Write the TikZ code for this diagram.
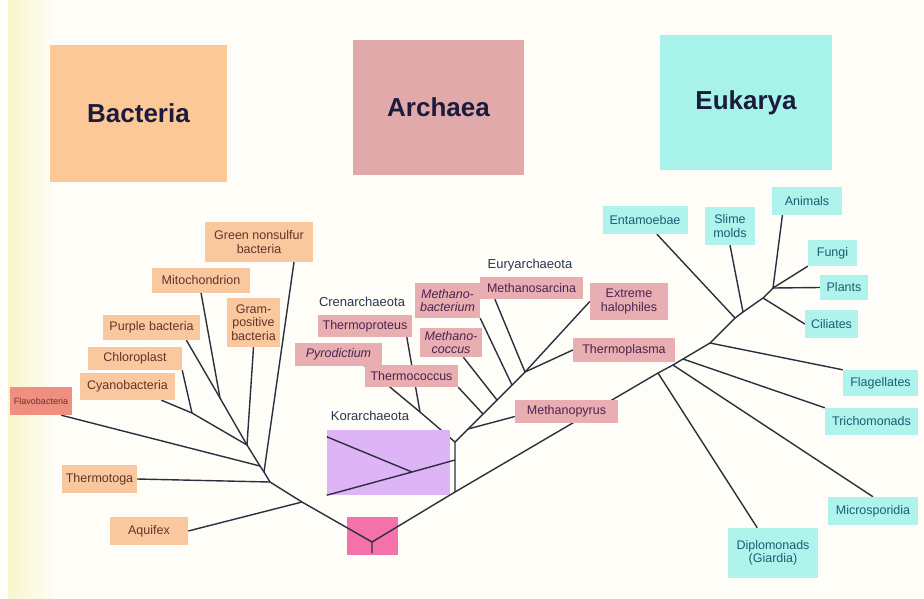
\documentclass[tikz,border=0pt]{standalone}
\usepackage{fontspec}
\setmainfont{Liberation Sans}
\usetikzlibrary{backgrounds}
\definecolor{pagebg}{HTML}{FEFDF8}
\definecolor{bandcol}{HTML}{F8F6CC}
\definecolor{bachead}{HTML}{FCC897}
\definecolor{archead}{HTML}{E1A9AA}
\definecolor{eukhead}{HTML}{A7F3EA}
\definecolor{bacfill}{HTML}{FAC89E}
\definecolor{arcfill}{HTML}{E8AEB1}
\definecolor{eukfill}{HTML}{AEF3EC}
\definecolor{korfill}{HTML}{DDB4F5}
\definecolor{rootfill}{HTML}{F471A9}
\definecolor{flavofill}{HTML}{EE8F80}
\definecolor{bactext}{HTML}{6A3028}
\definecolor{arctext}{HTML}{4C2450}
\definecolor{euktext}{HTML}{1E5C74}
\definecolor{headtext}{HTML}{1B1B3D}
\definecolor{cladetext}{HTML}{2C3652}
\definecolor{linecol}{HTML}{2B2F40}
\tikzset{
  leaf/.style={rectangle, inner sep=1pt, align=center,
    font=\fontsize{12.5}{13.5}\selectfont},
  sz/.style 2 args={minimum width=#1, minimum height=#2},
  bac/.style={leaf, fill=bacfill, text=bactext},
  arc/.style={leaf, fill=arcfill, text=arctext},
  euk/.style={leaf, fill=eukfill, text=euktext},
  domhead/.style={rectangle, text=headtext,
    font=\fontsize{26}{30}\selectfont\bfseries},
  clade/.style={inner sep=0pt, text=cladetext, font=\fontsize{13}{15}\selectfont},
  branch/.style={draw=linecol, line width=1.4pt}
}
\begin{document}
\begin{tikzpicture}[x=1pt,y=-1pt]
  \useasboundingbox (0,0) rectangle (924,598);
  \begin{scope}[on background layer]
    \fill[pagebg] (0,0) rectangle (924,598);
    \shade[left color=bandcol, right color=pagebg] (8,0) rectangle (55,598);
  \end{scope}

  \node[domhead, fill=bachead, sz={177}{137}] (bacteria) at (138.5,113.5) {Bacteria};
  \node[domhead, fill=archead, sz={171}{135}] (archaea) at (438.5,107.5) {Archaea};
  \node[domhead, fill=eukhead, sz={172}{135}] (eukarya) at (746,102.5) {Eukarya};

  \node[bac, sz={108}{40}] (gns) at (259,242) {Green nonsulfur\\bacteria};
  \node[bac, sz={98}{25}] (mito) at (201,280) {Mitochondrion};
  \node[bac, sz={53}{49}] (gram) at (253.5,322.5) {Gram-\\positive\\bacteria};
  \node[bac, sz={97}{25}] (purple) at (151.5,327.5) {Purple bacteria};
  \node[bac, sz={94}{23}] (chloro) at (135,358.5) {Chloroplast};
  \node[bac, sz={95}{27}] (cyano) at (127.5,386.5) {Cyanobacteria};
  \node[bac, fill=flavofill, sz={62}{28}, inner sep=0pt,
    font=\fontsize{9}{10}\selectfont] (flavo) at (41,401) {Flavobacteria};
  \node[bac, sz={75}{28}] (thermotoga) at (99.5,479) {Thermotoga};
  \node[bac, sz={78}{28}] (aquifex) at (149,531) {Aquifex};

  \node[clade] (cren) at (362,302) {Crenarchaeota};
  \node[clade] (eury) at (530,265) {Euryarchaeota};
  \node[clade] (korlab) at (370,416) {Korarchaeota};
  \node[arc, sz={94}{22}] (tprot) at (365,326) {Thermoproteus};
  \node[arc, sz={87}{23}] (pyro) at (338.5,354.5) {\itshape Pyrodictium};
  \node[arc, sz={93}{22}] (tcoc) at (411.5,376) {Thermococcus};
  \node[arc, sz={65}{35}] (mbac) at (447.5,300.5) {\itshape Methano-\\\itshape bacterium};
  \node[arc, sz={62}{29}] (mcoc) at (451,342.5) {\itshape Methano-\\\itshape coccus};
  \node[arc, sz={103}{22}] (msar) at (531.5,288) {Methanosarcina};
  \node[arc, sz={78}{37}] (halo) at (629,301.5) {Extreme\\halophiles};
  \node[arc, sz={102}{24}] (tplas) at (624,350) {Thermoplasma};
  \node[arc, sz={103}{23}] (mpyr) at (566.5,411.5) {Methanopyrus};
  \node[rectangle, fill=korfill, sz={123}{65}] (kor) at (388.5,462.5) {};
  \node[rectangle, fill=rootfill, sz={51}{38}] (root) at (372.5,536) {};

  \node[euk, sz={85}{28}] (ent) at (645,220) {Entamoebae};
  \node[euk, sz={50}{38}] (slime) at (730,226) {Slime\\molds};
  \node[euk, sz={70}{28}] (anim) at (807,201) {Animals};
  \node[euk, sz={49}{26}] (fungi) at (832.5,253) {Fungi};
  \node[euk, sz={48}{25}] (plants) at (844,287.5) {Plants};
  \node[euk, sz={53}{28}] (cil) at (831.5,324) {Ciliates};
  \node[euk, sz={75}{26}] (flag) at (880.5,383) {Flagellates};
  \node[euk, sz={93}{27}] (tricho) at (871.5,421.5) {Trichomonads};
  \node[euk, sz={90}{28}] (micro) at (873,511) {Microsporidia};
  \node[euk, sz={90}{50}] (diplo) at (773,553) {Diplomonads\\(Giardia)};

  \coordinate (R) at (372,542);
  \coordinate (stem) at (372,553);
  \coordinate (b0) at (302,502);
  \coordinate (b1) at (270,482);
  \coordinate (b2) at (264,472);
  \coordinate (b3) at (260,466);
  \coordinate (b4) at (247,445);
  \coordinate (b5) at (192,413);
  \coordinate (b6) at (220,398);
  \coordinate (a0) at (455,492);
  \coordinate (a1) at (455,460);
  \coordinate (a2) at (455,442);
  \coordinate (k1) at (412,472);
  \coordinate (c1) at (420,412);
  \coordinate (y0) at (468,429);
  \coordinate (y1) at (483,414);
  \coordinate (y2) at (497,400);
  \coordinate (y3) at (512,385);
  \coordinate (y4) at (525,372);
  \coordinate (e1) at (658,373);
  \coordinate (e2) at (673,365);
  \coordinate (e3) at (683,359);
  \coordinate (e4) at (710,343);
  \coordinate (e5) at (735,318);
  \coordinate (e6) at (743,312);
  \coordinate (e7) at (763,298);
  \coordinate (e8) at (773,288);

  \begin{scope}[on background layer]
  \begin{scope}[branch]
    \draw (b0) -- (b1) -- (b2) -- (b3) -- (b4) -- (b6) -- (purple.-20);
    \draw (b6) -- (mito.south);
    \draw (b4) -- (b5) -- (cyano.-22);
    \draw (b5) -- (chloro.south east);
    \draw (b4) -- (gram.south);
    \draw (b3) -- ([xshift=-11pt]flavo.south east);
    \draw (b2) -- (gns.-30);
    \draw (b1) -- (thermotoga.east);
    \draw (b0) -- (aquifex.east);
    \draw (a0) -- (a1) -- (a2) -- (c1) -- (pyro.-24);
    \draw (c1) -- (tprot.-15);
    \draw (a2) -- (y0) -- (y1) -- (y2) -- (y3) -- (y4) -- (halo.west);
    \draw (y0) -- ([yshift=-5pt]mpyr.west);
    \draw (y1) -- (tcoc.south east);
    \draw (y2) -- (mcoc.-50);
    \draw (y3) -- (mbac.south east);
    \draw (y4) -- (msar.-163);
    \draw (y4) -- (tplas.west);
    \draw (a0) -- (e1) -- (e2) -- (e3) -- (e4) -- (e5) -- (e6) -- (e7) -- (e8) -- (anim.-150);
    \draw (e1) -- (diplo.122);
    \draw (e2) -- (micro.north);
    \draw (e3) -- (tricho.north west);
    \draw (e4) -- (flag.north west);
    \draw (e5) -- (ent.-50);
    \draw (e6) -- (slime.south);
    \draw (e7) -- (cil.west);
    \draw (e8) -- (fungi.south west);
    \draw (e8) -- (plants.west);
  \end{scope}
  \end{scope}
  \begin{scope}[branch]
    \draw (stem) -- (R) -- (b0);
    \draw (R) -- (a0);
    \draw (a1) -- (k1) -- ([yshift=-7pt]kor.north west);
    \draw (k1) -- (kor.south west);
  \end{scope}
\end{tikzpicture}
\end{document}
